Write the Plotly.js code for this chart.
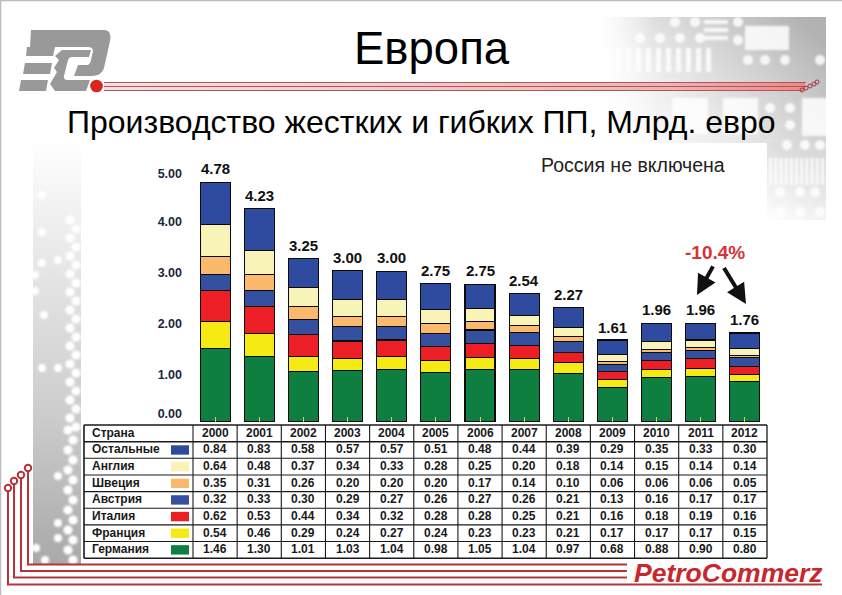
<!DOCTYPE html>
<html><head><meta charset="utf-8">
<script src="https://cdn.plot.ly/plotly-3.0.1.min.js"></script>
<style>html,body{margin:0;padding:0;background:#fff}#c{width:842px;height:595px}</style>
</head><body><div id="c"></div>
<script>
const years = ['2000','2001','2002','2003','2004','2005','2006','2007','2008','2009','2010','2011','2012'];
const totals = [4.78,4.23,3.25,3.00,3.00,2.75,2.75,2.54,2.27,1.61,1.96,1.96,1.76];
const others  = [0.84,0.83,0.58,0.57,0.57,0.51,0.48,0.44,0.39,0.29,0.35,0.33,0.30];
const england = [0.64,0.48,0.37,0.34,0.33,0.28,0.25,0.20,0.18,0.14,0.15,0.14,0.14];
const sweden  = [0.35,0.31,0.26,0.20,0.20,0.20,0.17,0.14,0.10,0.06,0.06,0.06,0.05];
const austria = [0.32,0.33,0.30,0.29,0.27,0.26,0.27,0.26,0.21,0.13,0.16,0.17,0.17];
const italy   = [0.62,0.53,0.44,0.34,0.32,0.28,0.28,0.25,0.21,0.16,0.18,0.19,0.16];
const france  = [0.54,0.46,0.29,0.24,0.27,0.24,0.23,0.23,0.21,0.17,0.17,0.17,0.15];
const germany = [1.46,1.30,1.01,1.03,1.04,0.98,1.05,1.04,0.97,0.68,0.88,0.90,0.80];
const rowNames = ['Остальные','Англия','Швеция','Австрия','Италия','Франция','Германия'];
const rowValues = [others,england,sweden,austria,italy,france,germany];
const rowColors = ['#2f4b9f','#f8f3b6','#fbb96c','#35509f','#ec1f27','#f5ea14','#0f7f41'];
const yTickPositions = [0.16,0.95,1.95,2.96,3.98,4.93];
const yTickLabels = ['0.00','1.00','2.00','3.00','4.00','5.00'];

const W=842,H=595,F='"Liberation Sans",Arial,sans-serif';
const px=x=>x/W, py=y=>1-y/H;
const TL=84,TC=193,TR=767,TT=425,RH=16.65,CW=(TR-TC)/13;

function backdrop(){
  let dots='';
  const d=(x,y,r)=>{dots+=`<circle cx="${x}" cy="${y}" r="${r}"/>`;};
  [[42,195,4],[42,232,4],[42,263,4],[58,260,4],[35,275,4],[35,291,4],[44,315,4],[42,368,4],[58,368,4],[58,476,4],[58,523,4],[58,538,4],[36,548,4],[45,560,4]].forEach(a=>d(...a));
  for(let i=0;i<24;i++){ d(70+(i%2)*6,220+i*9,4.6); }
  for(let i=0;i<14;i++){ d(68+(i%2)*5,430+i*10,4.6); }
  let tr='';
  [[675,22],[695,22],[738,22],[640,38],[660,38],[680,38],[700,38],[738,40],[748,60],[765,60],[785,60],[820,60],[690,112],[770,108],[790,108],[790,125],[787,145],[805,145],[820,145],[780,192],[800,192],[815,192],[780,212],[800,212],[820,212]].forEach(a=>{tr+=`<circle cx="${a[0]}" cy="${a[1]}" r="5"/>`;});
  for(let i=0;i<11;i++){ tr+=`<rect x="${606+i*10}" y="48" width="5" height="24"/>`; }
  for(let i=0;i<11;i++){ tr+=`<rect x="${769+i*5.2}" y="158" width="3" height="27"/>`; }
  tr+=`<rect x="745" y="26" width="44" height="24"/><rect x="802" y="98" width="26" height="38"/><rect x="672" y="98" width="36" height="36"/><rect x="723" y="98" width="35" height="36"/><rect x="704" y="20" width="24" height="4"/><rect x="704" y="28" width="24" height="4"/><rect x="704" y="36" width="24" height="4"/>`;
  let rings='';
  [[802,90],[806,88],[810,86],[814,84],[817,82]].forEach(a=>{rings+=`<circle cx="${a[0]}" cy="${a[1]}" r="2"/>`;});
  const svg=`<svg xmlns="http://www.w3.org/2000/svg" width="842" height="595" viewBox="0 0 842 595">
<defs>
<linearGradient id="l" x1="0" y1="0" x2="0" y2="1"><stop offset="0" stop-color="#fff"/><stop offset=".35" stop-color="#e2e2e2"/><stop offset=".65" stop-color="#cccccc"/><stop offset="1" stop-color="#a9a9a9"/></linearGradient>
<linearGradient id="t" x1="0" y1=".75" x2="1" y2=".2"><stop offset="0" stop-color="#fff"/><stop offset=".3" stop-color="#eeeeee"/><stop offset=".7" stop-color="#cfcfcf"/><stop offset="1" stop-color="#b2b2b2"/></linearGradient>
<linearGradient id="t2" x1="0" y1="1" x2=".4" y2="0"><stop offset="0" stop-color="#fff"/><stop offset="1" stop-color="#d8d8d8"/></linearGradient>
<linearGradient id="fade" x1="0" y1="0" x2="1" y2="0"><stop offset="0" stop-color="#f3c9c9" stop-opacity=".6"/><stop offset=".8" stop-color="#eeb5b5"/><stop offset="1" stop-color="#e88"/></linearGradient>
<linearGradient id="mask" x1="0" y1="0" x2="1" y2="0"><stop offset="0" stop-color="#fff"/><stop offset=".25" stop-color="#fff" stop-opacity="0"/></linearGradient>
<filter id="b"><feGaussianBlur stdDeviation="1.2"/></filter>
</defs>
<rect width="842" height="595" fill="#fff"/>
<path d="M0.5 595V0.5H842" fill="none" stroke="#bdbdbd" stroke-width="1.5"/>
<rect x="33" y="140" width="48" height="424" fill="url(#l)"/>
<g fill="#fff" filter="url(#b)">${dots}</g>
<rect x="598" y="17" width="228" height="126" fill="url(#t)"/>
<rect x="767" y="143" width="59" height="77" fill="url(#t2)"/>
<g fill="#fff" opacity=".85" filter="url(#b)">${tr}</g>
<rect x="598" y="17" width="228" height="126" fill="url(#mask)"/>
<rect x="104" y="82" width="701" height="9" fill="url(#fade)"/>
<g stroke="#b0565a" stroke-width="1" fill="none"><path d="M104 82.5H806M104 86.5H806M104 90.5H802"/></g>
<g fill="none" stroke="#a5363c" stroke-width="1">${rings}</g>
<g fill="none" stroke="#b5343a" stroke-width="2">
<path d="M28 471V564.5H627M21 478V571H627M14 484V577.5H627M8 491V584.5H822"/>
<circle cx="28" cy="468" r="3.2" fill="#fff"/><circle cx="21" cy="475" r="3.2" fill="#fff"/><circle cx="14" cy="481" r="3.2" fill="#fff"/><circle cx="8" cy="488" r="3.2" fill="#fff"/>
</g>
<g fill="#999">
<path d="M31 30H105Q112 31 110 41L104 68Q102 75 93 76H74L78 65H87Q90 65 91 60L93 51Q93 47 88 47H30Z"/>
<path d="M27 47H55L53 56H26Z"/><path d="M25 63H52L50 74H23Z"/><path d="M21 80H48L46 91H19Z"/>
<path d="M62 50H91L89 57H72Q69 57 68 60L64 76Q63 80 68 80H90L86 91H55L50 84L57 72L54 68L59 60L55 56Z"/>
</g>
<circle cx="96.5" cy="86" r="6.3" fill="#d9261e"/>
</svg>`;
  return 'data:image/svg+xml;charset=utf-8,'+encodeURIComponent(svg);
}

const bars = [6,5,4,3,2,1,0].map(i=>({
  type:'bar', name:rowNames[i], x:years, y:rowValues[i],
  marker:{color:rowColors[i],line:{color:'#0a0a0a',width:1.1}}, showlegend:false, hoverinfo:'x+y+name'
}));

const b=s=>'<b>'+s+'</b>';
const annotations = years.map((yr,i)=>({
  x:i,y:totals[i],xref:'x',yref:'y',text:b(totals[i].toFixed(2)),showarrow:false,yanchor:'bottom',xanchor:'center',yshift:3,
  font:{family:F,size:15,color:'#111'}
}));
const txt=(x,y,text,size,color,extra)=>Object.assign({x:px(x),y:py(y),xref:'paper',yref:'paper',text,showarrow:false,
  xanchor:'center',yanchor:'middle',font:{family:F,size,color}},extra||{});
annotations.push(
  txt(432,48,'Европа',45.5,'#000'),
  txt(421,122,'Производство жестких и гибких ПП, Млрд. евро',32,'#000'),
  txt(632.5,165,'Россия не включена',19.5,'#222'),
  txt(715,252,b('-10.4%'),19,'#d5333b'),
  txt(728,573,'<b><i>PetroCommerz</i></b>',26.5,'#c8272d')
);
[[697,295,19,-34],[746,304,-25,-41]].forEach(a=>annotations.push({
  x:px(a[0]),y:py(a[1]),xref:'paper',yref:'paper',ax:a[2],ay:a[3],text:' ',showarrow:true,
  arrowhead:2,arrowsize:1,arrowwidth:4,arrowcolor:'#111',standoff:0
}));

// table drawn from the same arrays
const cellFont={family:F,size:12,color:'#1a1a1a'};
const rowMid=r=>TT+RH*(r+0.5);
annotations.push(txt(90,rowMid(0)-0.5,b('Страна'),12,'#1a1a1a',{xanchor:'left'}));
years.forEach((yr,c)=>annotations.push({x:c,y:py(rowMid(0)-0.5),xref:'x',yref:'paper',text:b(yr),showarrow:false,xanchor:'center',yanchor:'middle',font:cellFont}));
rowNames.forEach((n,r)=>{
  annotations.push(txt(90,rowMid(r+1)-0.5,b(n),12,'#1a1a1a',{xanchor:'left'}));
  years.forEach((yr,c)=>annotations.push({x:c,y:py(rowMid(r+1)-0.5),xref:'x',yref:'paper',text:b(rowValues[r][c].toFixed(2)),showarrow:false,xanchor:'center',yanchor:'middle',font:cellFont}));
});

const line=(x0,y0,x1,y1,w)=>({type:'line',xref:'paper',yref:'paper',layer:'above',x0:px(x0),y0:py(y0),x1:px(x1),y1:py(y1),line:{color:'#1a1a1a',width:w}});
const shapes=[{type:'rect',xref:'paper',yref:'paper',layer:'below',x0:px(TL),x1:px(TR),y0:py(TT+8*RH),y1:py(TT),fillcolor:'#fff',line:{width:0}}];
for(let r=0;r<=8;r++) shapes.push(line(TL,TT+r*RH,TR,TT+r*RH,r==0||r==8||r==1?1.5:1.1));
shapes.push(line(TL,TT,TL,TT+8*RH,1.6));
for(let c=0;c<=13;c++) shapes.push(line(TC+c*CW,TT,TC+c*CW,TT+8*RH,c==13?1.3:1.1));
rowColors.forEach((c,i)=>shapes.push({type:'rect',xref:'paper',yref:'paper',layer:'above',
  x0:px(171),x1:px(189),y0:py(rowMid(i+1)+4.7),y1:py(rowMid(i+1)-4.7),fillcolor:c,line:{width:0}}));

const layout={
  width:W,height:H,margin:{l:0,r:0,t:0,b:0},
  paper_bgcolor:'rgba(0,0,0,0)',plot_bgcolor:'rgba(0,0,0,0)',
  barmode:'stack',bargap:0.32,showlegend:false,
  font:{family:F},
  xaxis:{domain:[px(TC),px(TR)],type:'category',categoryorder:'array',categoryarray:years,range:[-0.5,12.5],
    showgrid:false,zeroline:false,showline:false,showticklabels:false,ticks:'inside',ticklen:5,tickwidth:1,tickcolor:'#b8e05a',layer:'above traces'},
  yaxis:{domain:[py(422),py(150)],range:[0,272/50.3],showgrid:false,zeroline:false,showline:false,
    tickmode:'array',tickvals:yTickPositions,ticktext:yTickLabels.map(b),ticks:'',ticklabelstandoff:10,
    tickfont:{family:F,size:12.5,color:'#1c2540'}},
  images:[{source:backdrop(),xref:'paper',yref:'paper',x:0,y:1,sizex:1,sizey:1,sizing:'stretch',xanchor:'left',yanchor:'top',layer:'below'}],
  annotations,shapes
};
Plotly.newPlot('c',bars,layout,{displayModeBar:false});
</script></body></html>
